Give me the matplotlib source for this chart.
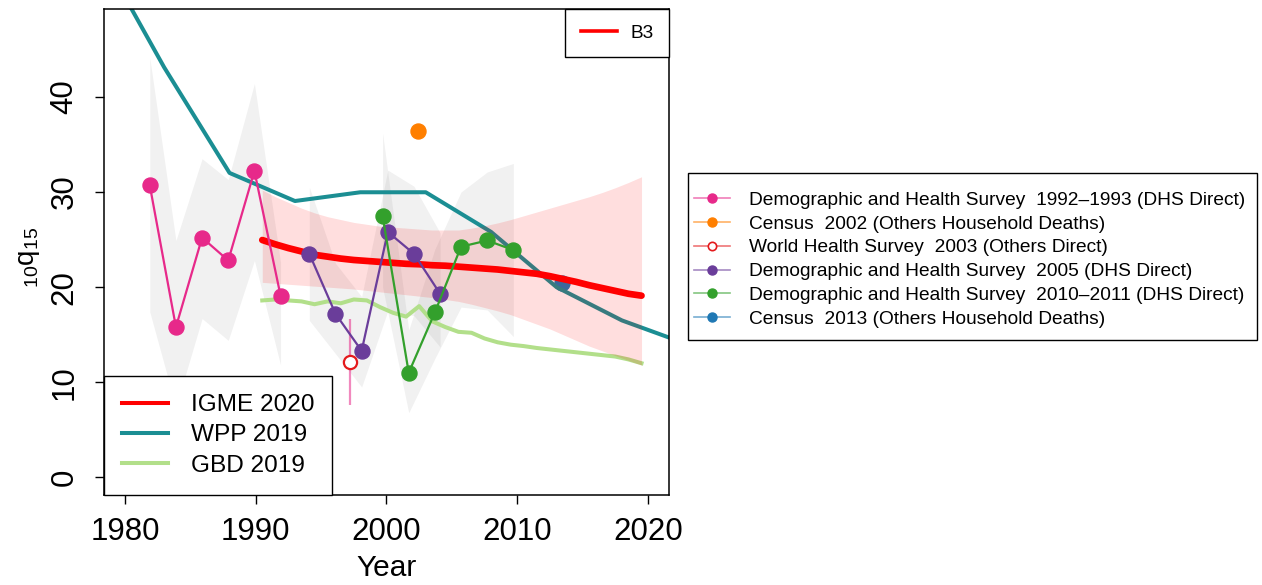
import numpy as np
import matplotlib
matplotlib.use("Agg")
import matplotlib.pyplot as plt
from matplotlib.lines import Line2D
from matplotlib.patches import Rectangle
from matplotlib.colors import to_rgba

plt.rcParams["font.family"] = ["Liberation Sans", "DejaVu Sans"]
plt.rcParams["mathtext.fontset"] = "custom"
plt.rcParams["mathtext.rm"] = "Liberation Sans"
plt.rcParams["mathtext.it"] = "Liberation Sans"

# ---- IGME 2020 estimate with uncertainty band (B3 model) ----
igme_years = [1990.5, 1991.5, 1992.5, 1993.5, 1994.5, 1995.5, 1996.5, 1997.5,
              1998.5, 1999.5, 2000.5, 2001.5, 2002.5, 2003.5, 2004.5, 2005.5,
              2006.5, 2007.5, 2008.5, 2009.5, 2010.5, 2011.5, 2012.5, 2013.5,
              2014.5, 2015.5, 2016.5, 2017.5, 2018.5, 2019.5]
igme_median = [24.95, 24.5, 24.1, 23.75, 23.4, 23.2, 23.0, 22.85, 22.75, 22.65,
               22.55, 22.45, 22.4, 22.3, 22.25, 22.15, 22.05, 21.95, 21.85, 21.7,
               21.55, 21.4, 21.15, 20.85, 20.55, 20.2, 19.9, 19.6, 19.3, 19.1]
igme_lower = [20.5, 20.4, 20.3, 20.2, 20.1, 20.0, 19.9, 19.8, 19.65, 19.5,
              19.35, 19.2, 19.05, 18.9, 18.7, 18.5, 18.2, 17.85, 17.5, 17.1,
              16.6, 16.1, 15.6, 15.0, 14.4, 13.8, 13.3, 12.8, 12.3, 11.8]
igme_upper = [30.2, 29.5, 28.9, 28.3, 27.8, 27.4, 27.1, 26.8, 26.6, 26.4,
              26.3, 26.2, 26.1, 26.0, 26.0, 26.0, 26.2, 26.45, 26.75, 27.1,
              27.5, 27.9, 28.3, 28.7, 29.1, 29.5, 29.95, 30.45, 31.0, 31.6]

# ---- WPP 2019 ----
wpp_years = [1978, 1983, 1988, 1993, 1998, 2003, 2008, 2013, 2018, 2023]
wpp_values = [55.4, 43.1, 32.0, 29.05, 29.97, 29.97, 25.8, 20.0, 16.5, 14.0]

# ---- GBD 2019 ----
gbd_years = igme_years
gbd_values = [18.6, 18.7, 18.6, 18.5, 18.2, 18.5, 18.3, 18.7, 18.6, 17.9,
              17.3, 16.9, 18.0, 16.4, 15.8, 15.3, 15.2, 14.6, 14.2, 13.95,
              13.8, 13.6, 13.45, 13.3, 13.15, 13.0, 12.85, 12.7, 12.4, 12.0]

# ---- Survey / census data series ----
dhs92_years = [1981.9, 1983.9, 1985.9, 1987.9, 1989.9, 1991.9]
dhs92_values = [30.7, 15.8, 25.2, 22.8, 32.2, 19.1]
dhs92_lower = [17.4, 7.4, 16.7, 14.4, 22.8, 11.8]
dhs92_upper = [44.1, 24.9, 33.5, 31.3, 41.4, 22.6]

census02_years = [2002.4]
census02_values = [36.4]

whs03_years = [1997.2]
whs03_values = [12.1]
whs03_lower = [7.6]
whs03_upper = [16.7]

dhs05_years = [1994.1, 1996.1, 1998.1, 2000.1, 2002.1, 2004.1]
dhs05_values = [23.5, 17.2, 13.3, 25.8, 23.5, 19.3]
dhs05_lower = [16.5, 13.0, 9.5, 17.5, 17.0, 13.7]
dhs05_upper = [30.5, 22.5, 19.0, 32.3, 30.6, 25.7]

dhs10_years = [1999.7, 2001.7, 2003.7, 2005.7, 2007.7, 2009.7]
dhs10_values = [27.5, 11.0, 17.35, 24.25, 24.9, 23.9]
dhs10_lower = [20.0, 6.8, 12.5, 17.9, 17.6, 14.8]
dhs10_upper = [36.2, 15.5, 24.0, 30.0, 32.1, 33.0]

census13_years = [2013.4]
census13_values = [20.45]

series_labels = [
    "Demographic and Health Survey  1992\u20131993 (DHS Direct)",
    "Census  2002 (Others Household Deaths)",
    "World Health Survey  2003 (Others Direct)",
    "Demographic and Health Survey  2005 (DHS Direct)",
    "Demographic and Health Survey  2010\u20132011 (DHS Direct)",
    "Census  2013 (Others Household Deaths)",
]
series_colors = ["#e7298a", "#ff7f00", "#e41a1c", "#6a3d9a", "#33a02c", "#1f78b4"]

x_ticks = [1980, 1990, 2000, 2010, 2020]
y_ticks = [0, 10, 20, 30, 40]

W, H = 1262, 585
fig = plt.figure(figsize=(W / 100, H / 100), dpi=100)
ax = fig.add_axes([104 / W, 1 - 495 / H, (669 - 104) / W, (495 - 9.3) / H])
ax.set_xlim(1978.4, 2021.6)
ax.set_ylim(-1.85, 49.2)

grey = to_rgba("#808080", 0.11)

# uncertainty bands of the survey series
for yrs, lo, hi in [(dhs92_years, dhs92_lower, dhs92_upper),
                    (dhs05_years, dhs05_lower, dhs05_upper),
                    (dhs10_years, dhs10_lower, dhs10_upper)]:
    ax.fill_between(yrs, lo, hi, color=grey, lw=0, zorder=1)

# census 2013 point sits beneath the model lines
ax.plot(census13_years, census13_values, "o", color=series_colors[5],
        ms=10.8, zorder=1.5)

# comparison estimates
ax.plot(wpp_years, wpp_values, color="#1b8e93", lw=2.9, zorder=2)
ax.plot(gbd_years, gbd_values, color="#b2df8a", lw=2.9, zorder=2)

# IGME band and median
ax.fill_between(igme_years, igme_lower, igme_upper, color=to_rgba("red", 0.13),
                lw=0, zorder=3)
ax.plot(igme_years, igme_median, color="red", lw=4.8, solid_capstyle="round",
        zorder=4)

# survey series with connecting lines
ax.plot(dhs92_years, dhs92_values, "-o", color=series_colors[0], lw=1.6,
        ms=10.8, zorder=5)
ax.plot(census02_years, census02_values, "o", color=series_colors[1],
        ms=10.8, zorder=5)
ax.vlines(whs03_years, whs03_lower, whs03_upper, color=to_rgba("#e7298a", 0.55),
          lw=1.6, zorder=5)
ax.plot(whs03_years, whs03_values, "o", mfc="white", mec=series_colors[2],
        mew=1.6, ms=9.5, zorder=6)
ax.plot(dhs05_years, dhs05_values, "-o", color=series_colors[3], lw=1.6,
        ms=10.8, zorder=5)
ax.plot(dhs10_years, dhs10_values, "-o", color=series_colors[4], lw=1.6,
        ms=10.8, zorder=5)

ax.set_xticks(x_ticks)
ax.set_xticklabels([str(v) for v in x_ticks])
ax.set_yticks(y_ticks)
ax.set_yticklabels([str(v) for v in y_ticks], rotation=90, va="center")
ax.tick_params(axis="x", labelsize=22.5, length=6.5, width=1.0, pad=9.5)
ax.tick_params(axis="y", labelsize=22.5, length=6.5, width=1.0, pad=11)
for s in ax.spines.values():
    s.set_linewidth(1.1)

fig.text(386.5 / W, 1 - 568 / H, "Year", fontsize=21.5, ha="center", va="center")
fig.text(29 / W, 1 - 257 / H, r"${}_{10}\mathrm{q}_{15}$", fontsize=20,
         rotation=90, ha="center", va="center")

# legend for the model line
leg_b3 = ax.legend([Line2D([], [], color="red", lw=2.6)], ["B3"],
                   loc="upper right", bbox_to_anchor=(1, 1), borderaxespad=0,
                   fontsize=13.7, fancybox=False, edgecolor="black",
                   framealpha=1, handlelength=1.9, handletextpad=0.7,
                   borderpad=0.81)
leg_b3.get_frame().set_linewidth(1.0)
leg_b3.set_zorder(10)
ax.add_artist(leg_b3)

# legend for the comparison estimates
est_handles = [Line2D([], [], color="red", lw=2.9),
               Line2D([], [], color="#1b8e93", lw=2.9),
               Line2D([], [], color="#b2df8a", lw=2.9)]
leg_est = ax.legend(est_handles, ["IGME 2020", "WPP 2019", "GBD 2019"],
                    loc="lower left", bbox_to_anchor=(0, 0), borderaxespad=0,
                    fontsize=17.6, fancybox=False, edgecolor="black",
                    framealpha=1, handlelength=1.87, handletextpad=0.92,
                    borderpad=0.75, labelspacing=0.33)
leg_est.get_frame().set_linewidth(1.0)
leg_est.set_zorder(10)

# legend for the data series, outside the plot
data_handles = []
for i, c in enumerate(series_colors):
    if i == 2:
        h = Line2D([], [], color=to_rgba(c, 0.6), lw=1.2, marker="o",
                   mfc="white", mec=c, mew=1.2, ms=6)
    else:
        h = Line2D([], [], color=to_rgba(c, 0.6), lw=1.2, marker="o",
                   mfc=c, mec=c, ms=6.5)
    data_handles.append(h)
fig.legend(data_handles, series_labels, loc="upper left",
           bbox_to_anchor=(694 / W, 1 - 191.6 / H), frameon=False,
           borderpad=0, borderaxespad=0, fontsize=13.8, handlelength=1.9,
           handletextpad=0.95, labelspacing=0.33)
fig.patches.append(Rectangle((688 / W, 1 - 340 / H), (1257 - 688) / W,
                             (340 - 173) / H, transform=fig.transFigure,
                             fill=False, edgecolor="black", lw=1.0))

fig.savefig("out.png", dpi=100)
